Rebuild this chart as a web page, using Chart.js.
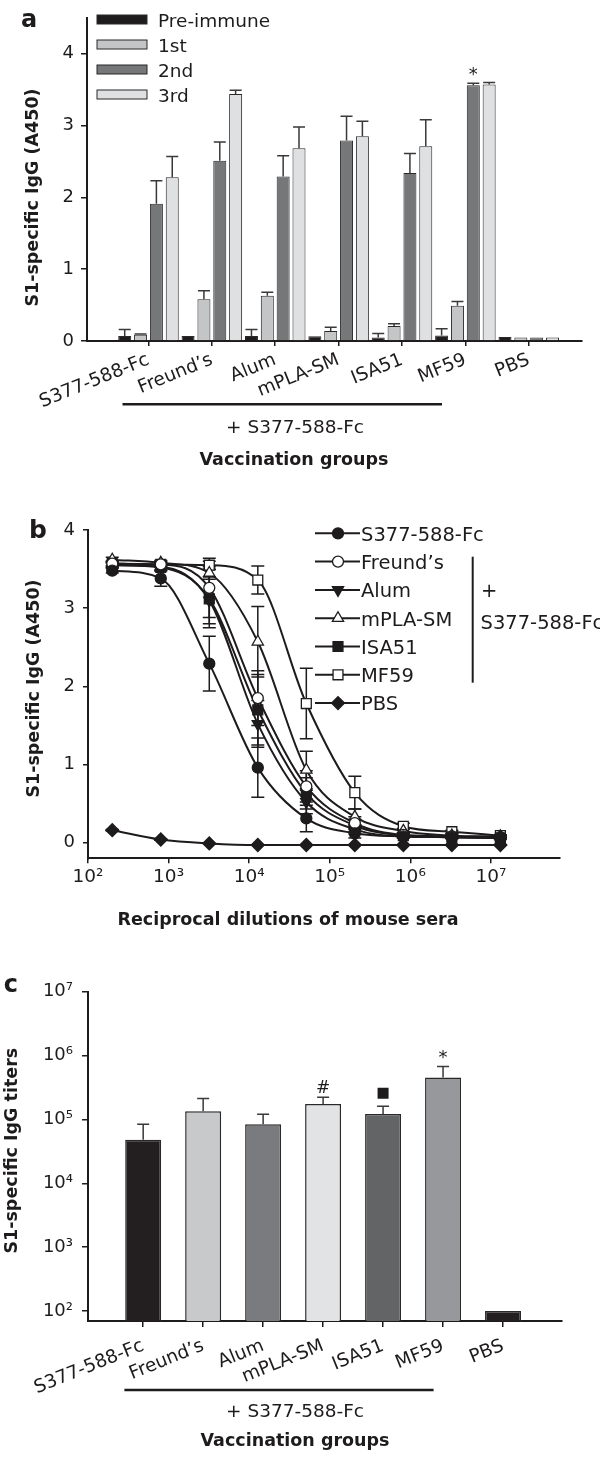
<!DOCTYPE html>
<html lang="en">
<head>
<meta charset="UTF-8" />
<title>S1-specific IgG responses</title>
<script src="https://cdn.jsdelivr.net/npm/chart.js@4.4.1/dist/chart.umd.min.js"></script>
<style>
  body { margin: 0; background: #fff; width: 600px; height: 1458px; overflow: hidden; }
  canvas { display: block; }
</style>
</head>
<body>
<canvas id="panelA" width="600" height="480"></canvas>
<canvas id="panelB" width="600" height="480"></canvas>
<canvas id="panelC" width="600" height="498"></canvas>

<script>
// ---- data ----
const groups = ['S377-588-Fc', 'Freund\u2019s', 'Alum', 'mPLA-SM', 'ISA51', 'MF59', 'PBS'];

// a: antibody after each immunization (A450)
const doses = ['Pre-immune', '1st', '2nd', '3rd'];
const preImmune    = [0.07, 0.07, 0.07, 0.065, 0.05, 0.075, 0.055];
const preImmuneErr = [0.09, 0, 0.09, 0, 0.055, 0.095, 0];
const firstDose    = [0.087, 0.58, 0.63, 0.14, 0.21, 0.49, 0.05];
const firstDoseErr = [0.01, 0.12, 0.05, 0.05, 0.03, 0.06, 0];
const secondDose    = [1.91, 2.51, 2.29, 2.79, 2.34, 3.56, 0.05];
const secondDoseErr = [0.32, 0.26, 0.29, 0.34, 0.27, 0.03, 0];
const thirdDose    = [2.28, 3.44, 2.685, 2.85, 2.71, 3.57, 0.05];
const thirdDoseErr = [0.29, 0.05, 0.295, 0.21, 0.37, 0.03, 0];
const secondDoseMarks = ['', '', '', '', '', '*', ''];
const absTicksA = [0, 1, 2, 3, 4];

// b: titration curves
const dilutions = [200, 800, 3200, 12800, 51200, 204800, 819200, 3276800, 13107200];
const curveS377   = [3.48, 3.38, 2.29, 0.96, 0.31, 0.12, 0.08, 0.07, 0.06];
const curveFreund = [3.57, 3.56, 3.26, 1.85, 0.72, 0.25, 0.10, 0.08, 0.07];
const curveAlum   = [3.55, 3.53, 3.10, 1.52, 0.52, 0.17, 0.08, 0.07, 0.06];
const curveMPLA   = [3.62, 3.58, 3.45, 2.57, 0.93, 0.33, 0.15, 0.09, 0.08];
const curveISA51  = [3.55, 3.52, 3.12, 1.70, 0.63, 0.22, 0.09, 0.07, 0.06];
const curveMF59   = [3.57, 3.56, 3.55, 3.36, 1.78, 0.64, 0.21, 0.14, 0.09];
const curvePBS    = [0.16, 0.04, -0.01, -0.03, -0.03, -0.03, -0.03, -0.03, -0.03];
const errS377   = [0.03, 0.10, 0.35, 0.38, 0.17, 0.06, 0.02, 0.01, 0.01];
const errFreund = [0.03, 0.04, 0.38, 0.35, 0.20, 0.08, 0.03, 0.02, 0.01];
const errAlum   = [0.03, 0.04, 0.30, 0.30, 0.15, 0.06, 0.02, 0.01, 0.01];
const errMPLA   = [0.03, 0.03, 0.08, 0.45, 0.24, 0.10, 0.03, 0.02, 0.01];
const errISA51  = [0.03, 0.04, 0.37, 0.45, 0.20, 0.08, 0.02, 0.01, 0.01];
const errMF59   = [0.03, 0.03, 0.05, 0.18, 0.45, 0.21, 0.04, 0.02, 0.01];
const errPBS    = [0.01, 0.01, 0, 0, 0, 0, 0, 0, 0];
const absTicksB = [0, 1, 2, 3, 4];
const dilutionTicks = [1e2, 1e3, 1e4, 1e5, 1e6, 1e7];

// c: endpoint titers
const titers   = [48000, 135000, 84000, 175000, 122000, 453000, 100];
const titerErr = [36000, 77000, 37000, 48000, 39000, 220000, 0];
const titerMarks = ['', '', '', '#', '\u25A0', '*', ''];
const titerTicks = [1e2, 1e3, 1e4, 1e5, 1e6, 1e7];

// ---- styles ----
const INK = '#1e1b1c';
const FONT = '"DejaVu Sans", sans-serif';
const doseColors = ['#1f1c1d', '#c4c5c7', '#767779', '#dfe0e1'];
const titerColors = ['#231f20', '#c8c9cb', '#7a7b7e', '#e2e3e4', '#636466', '#97989b', '#231f20'];
const markerStyles = ['circle', 'circle', 'triangle', 'triangle', 'rect', 'rect', 'rectRot'];
const markerFilled = [true, false, true, false, true, false, true];
const markerRot = [0, 0, 180, 0, 0, 0, 0];
const markerRadius = [5.5, 5.5, 6.5, 6.5, 7, 7, 6.5];

Chart.defaults.font.family = FONT;
Chart.defaults.color = INK;
Chart.defaults.animation = false;
Chart.defaults.plugins.legend.display = false;
Chart.defaults.plugins.tooltip.enabled = false;

const SUP = { '0': '\u2070', '1': '\u00B9', '2': '\u00B2', '3': '\u00B3', '4': '\u2074',
              '5': '\u2075', '6': '\u2076', '7': '\u2077', '8': '\u2078', '9': '\u2079' };
const pow10 = v => '10' + String(Math.round(Math.log10(v))).split('').map(d => SUP[d]).join('');

function text(ctx, str, x, y, font, align = 'center', rot = 0) {
  ctx.save();
  ctx.translate(x, y);
  ctx.rotate(rot);
  ctx.font = font;
  ctx.textAlign = align;
  ctx.textBaseline = 'alphabetic';
  ctx.fillStyle = INK;
  ctx.fillText(str, 0, 0);
  ctx.restore();
}

function hline(ctx, x0, x1, y, w) {
  ctx.save();
  ctx.strokeStyle = INK;
  ctx.lineWidth = w;
  ctx.beginPath();
  ctx.moveTo(x0, y);
  ctx.lineTo(x1, y);
  ctx.stroke();
  ctx.restore();
}

// error bars from dataset.errors; up-only for bars, both ways for curves
function drawErrors(chart, both, cap, color, width) {
  const { ctx } = chart;
  const y = chart.scales.y;
  ctx.save();
  ctx.strokeStyle = color;
  ctx.lineWidth = width;
  chart.data.datasets.forEach((ds, di) => {
    if (!ds.errors) return;
    chart.getDatasetMeta(di).data.forEach((el, i) => {
      const e = ds.errors[i];
      if (!e) return;
      const d = ds.data[i];
      const v = typeof d === 'object' ? d.y : d;
      const top = y.getPixelForValue(v + e);
      const bot = both ? y.getPixelForValue(v - e) : el.y;
      ctx.beginPath();
      ctx.moveTo(el.x, bot); ctx.lineTo(el.x, top);
      ctx.moveTo(el.x - cap, top); ctx.lineTo(el.x + cap, top);
      if (both) { ctx.moveTo(el.x - cap, bot); ctx.lineTo(el.x + cap, bot); }
      ctx.stroke();
    });
  });
  ctx.restore();
}

const axisLine = { display: true, color: INK, width: 2 };
const tickGrid = len => ({ display: true, drawOnChartArea: false, drawTicks: true, tickLength: len,
                           color: INK, lineWidth: 1.5, offset: false });

// ---- panel a ----
const doseSeries = [
  [preImmune, preImmuneErr], [firstDose, firstDoseErr],
  [secondDose, secondDoseErr], [thirdDose, thirdDoseErr]
];

new Chart(document.getElementById('panelA'), {
  type: 'bar',
  data: {
    datasets: doseSeries.map(([vals, errs], k) => ({
      label: doses[k],
      data: vals.map((v, i) => ({ x: i + 1, y: v })),
      errors: errs,
      backgroundColor: doseColors[k],
      borderColor: '#2a2829',
      borderWidth: 1,
      categoryPercentage: 1,
      barPercentage: 0.82
    }))
  },
  options: {
    responsive: false,
    layout: { padding: { top: 15, right: 18, left: 0, bottom: 0 } },
    scales: {
      x: {
        type: 'linear', min: 0.03, max: 7.84, offset: false,
        afterBuildTicks: s => { s.ticks = groups.map((g, i) => ({ value: i + 1 })); },
        afterFit: s => { s.height = 139; },
        ticks: { autoSkip: false, minRotation: 22, maxRotation: 22, padding: 3,
                 font: { size: 18.5 }, callback: v => groups[v - 1] },
        grid: tickGrid(5),
        border: axisLine
      },
      y: {
        min: 0, max: 4.5,
        afterBuildTicks: s => { s.ticks = absTicksA.map(v => ({ value: v })); },
        afterFit: s => { s.width = 87; },
        ticks: { padding: 7, font: { size: 18 } },
        grid: tickGrid(6),
        border: axisLine
      }
    }
  },
  plugins: [{
    id: 'extrasA',
    afterDatasetsDraw(chart) { drawErrors(chart, false, 6, '#3a3839', 1.5); },
    afterDraw(chart) {
      const { ctx } = chart;
      const y = chart.scales.y;
      // legend
      chart.data.datasets.forEach((ds, i) => {
        const yc = 19.5 + i * 25;
        ctx.fillStyle = ds.backgroundColor;
        ctx.fillRect(97, yc - 4.5, 50, 9);
        ctx.strokeStyle = '#2a2829';
        ctx.lineWidth = 1;
        ctx.strokeRect(97, yc - 4.5, 50, 9);
        text(ctx, ds.label, 158, yc + 7.5, '18.5px ' + FONT, 'left');
      });
      // significance over 2nd dose
      const meta = chart.getDatasetMeta(2);
      secondDoseMarks.forEach((m, i) => {
        if (!m) return;
        const top = y.getPixelForValue(secondDose[i] + secondDoseErr[i]);
        text(ctx, m, meta.data[i].x, top - 13.5 + 10.4, '18px ' + FONT);
      });
      text(ctx, 'a', 21, 27, 'bold 24px ' + FONT, 'left');
      text(ctx, 'S1-specific IgG (A450)', 38, 197.5, 'bold 17.5px ' + FONT, 'center', -Math.PI / 2);
      hline(ctx, 122.5, 442, 404.3, 2.5);
      text(ctx, '+ S377-588-Fc', 295, 433.3, '18.5px ' + FONT);
      text(ctx, 'Vaccination groups', 294, 464.5, 'bold 17.5px ' + FONT);
    }
  }]
});

// ---- panel b ----
const curves = [curveS377, curveFreund, curveAlum, curveMPLA, curveISA51, curveMF59, curvePBS];
const curveErrs = [errS377, errFreund, errAlum, errMPLA, errISA51, errMF59, errPBS];

new Chart(document.getElementById('panelB'), {
  type: 'line',
  data: {
    datasets: curves.map((vals, k) => ({
      label: groups[k],
      data: dilutions.map((d, i) => ({ x: d, y: vals[i] })),
      errors: curveErrs[k],
      borderColor: INK,
      borderWidth: 2,
      fill: false,
      cubicInterpolationMode: 'monotone',
      pointStyle: markerStyles[k],
      pointRotation: markerRot[k],
      pointRadius: markerRadius[k],
      pointBackgroundColor: markerFilled[k] ? INK : '#ffffff',
      pointBorderColor: INK,
      pointBorderWidth: 1.3
    }))
  },
  options: {
    responsive: false,
    layout: { padding: { top: 50, right: 40.5, left: 0, bottom: 0 } },
    scales: {
      x: {
        type: 'logarithmic', min: 100, max: 7.1e7,
        afterBuildTicks: s => { s.ticks = dilutionTicks.map(v => ({ value: v })); },
        afterFit: s => { s.height = 101.7; },
        ticks: { autoSkip: false, maxRotation: 0, padding: 3, font: { size: 18.5 }, callback: v => pow10(v) },
        grid: tickGrid(5),
        border: axisLine
      },
      y: {
        min: -0.2, max: 4,
        afterBuildTicks: s => { s.ticks = absTicksB.map(v => ({ value: v })); },
        afterFit: s => { s.width = 88; },
        ticks: { padding: 8, font: { size: 18 } },
        grid: tickGrid(5),
        border: axisLine
      }
    }
  },
  plugins: [{
    id: 'extrasB',
    beforeDatasetsDraw(chart) { drawErrors(chart, true, 6.5, INK, 1.5); },
    afterDraw(chart) {
      const { ctx } = chart;
      chart.data.datasets.forEach((ds, i) => {
        const yc = 53.3 + i * 28.3;
        hline(ctx, 315, 360, yc, 2);
        ctx.save();
        ctx.fillStyle = ds.pointBackgroundColor;
        ctx.strokeStyle = INK;
        ctx.lineWidth = 1.3;
        Chart.helpers.drawPoint(ctx, { pointStyle: ds.pointStyle, rotation: ds.pointRotation,
                                       radius: ds.pointRadius, borderWidth: 1.3 }, 338, yc);
        ctx.restore();
        text(ctx, ds.label, 361, yc + 7.3, '19.5px ' + FONT, 'left');
      });
      ctx.save();
      ctx.strokeStyle = INK;
      ctx.lineWidth = 2;
      ctx.beginPath();
      ctx.moveTo(472.7, 76.7);
      ctx.lineTo(472.7, 202.7);
      ctx.stroke();
      ctx.restore();
      text(ctx, '+', 481, 117, '19.5px ' + FONT, 'left');
      text(ctx, 'S377-588-Fc', 480.5, 149, '19.5px ' + FONT, 'left');
      text(ctx, 'b', 29, 58.3, 'bold 25px ' + FONT, 'left');
      text(ctx, 'S1-specific IgG (A450)', 38.5, 208.5, 'bold 17.5px ' + FONT, 'center', -Math.PI / 2);
      text(ctx, 'Reciprocal dilutions of mouse sera', 288, 444.5, 'bold 17.5px ' + FONT);
    }
  }]
});

// ---- panel c ----
new Chart(document.getElementById('panelC'), {
  type: 'bar',
  data: {
    datasets: [{
      label: 'S1-specific IgG titers',
      data: titers.map((v, i) => ({ x: i + 1, y: v })),
      errors: titerErr,
      backgroundColor: titerColors,
      borderColor: '#2a2829',
      borderWidth: 1.5,
      categoryPercentage: 1,
      barPercentage: 0.6
    }]
  },
  options: {
    responsive: false,
    layout: { padding: { top: 31.7, right: 38.2, left: 0, bottom: 0 } },
    scales: {
      x: {
        type: 'linear', min: 0.08, max: 7.98, offset: false,
        afterBuildTicks: s => { s.ticks = groups.map((g, i) => ({ value: i + 1 })); },
        afterFit: s => { s.height = 137; },
        ticks: { autoSkip: false, minRotation: 22, maxRotation: 22, padding: 8,
                 font: { size: 18.5 }, callback: v => groups[v - 1] },
        grid: tickGrid(6),
        border: axisLine
      },
      y: {
        type: 'logarithmic', min: 70, max: 1e7,
        afterBuildTicks: s => { s.ticks = titerTicks.map(v => ({ value: v })); },
        afterFit: s => { s.width = 88; },
        ticks: { padding: 9, font: { size: 18 }, callback: v => pow10(v) },
        grid: tickGrid(6),
        border: axisLine
      }
    }
  },
  plugins: [{
    id: 'extrasC',
    afterDatasetsDraw(chart) { drawErrors(chart, false, 6, '#3a3839', 1.5); },
    afterDraw(chart) {
      const { ctx } = chart;
      const y = chart.scales.y;
      const meta = chart.getDatasetMeta(0);
      titerMarks.forEach((m, i) => {
        if (!m) return;
        const top = y.getPixelForValue(titers[i] + titerErr[i]);
        const x = meta.data[i].x;
        if (m === '*') text(ctx, m, x, top - 13.7 + 10.4, '18px ' + FONT);
        else if (m === '#') text(ctx, m, x, top - 10.6 + 6.2, '17px ' + FONT);
        else { ctx.fillStyle = INK; ctx.fillRect(x - 5.5, top - 13 - 5.5, 11, 11); }
      });
      text(ctx, 'c', 3.8, 31.7, 'bold 24px ' + FONT, 'left');
      text(ctx, 'S1-specific IgG titers', 16.6, 190.7, 'bold 17.5px ' + FONT, 'center', -Math.PI / 2);
      hline(ctx, 124.4, 433.6, 430, 2.5);
      text(ctx, '+ S377-588-Fc', 295, 457.3, '18.5px ' + FONT);
      text(ctx, 'Vaccination groups', 295, 486, 'bold 17.5px ' + FONT);
    }
  }]
});
</script>
</body>
</html>
